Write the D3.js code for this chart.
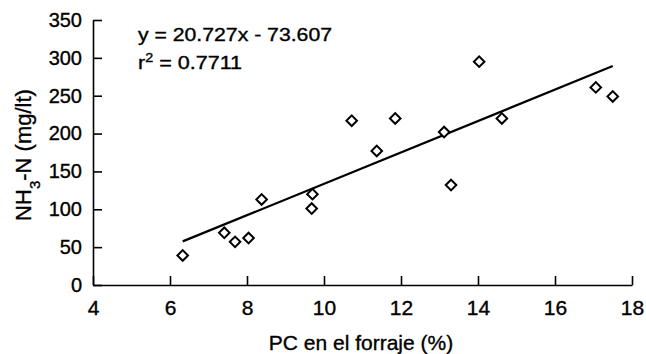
<!DOCTYPE html>
<html>
<head>
<meta charset="utf-8">
<script src="https://cdn.jsdelivr.net/npm/d3@7"></script>
<style>
  body { margin: 0; background: #fff; }
  svg text { font-family: Arial, "Liberation Sans", Helvetica, sans-serif; fill: #000; stroke: #000; stroke-width: 0.35px; }
</style>
</head>
<body>
<svg id="chart" width="646" height="354"></svg>
<script>
// PC en el forraje (%) vs NH3-N (mg/lt)
var pcValues  = [6.33, 7.41, 7.69, 8.04, 8.38, 9.70, 9.68, 10.72, 11.37, 11.85, 13.12, 13.30, 14.03, 14.62, 17.06, 17.50];
var nh3Values = [39, 69, 57, 62, 113, 120, 101, 217, 177, 220, 202, 132, 295, 220, 261, 249];
var xTicks = [4, 6, 8, 10, 12, 14, 16, 18];
var yTicks = [0, 50, 100, 150, 200, 250, 300, 350];
// regression line from the figure
var slope = 20.727;
var intercept = -73.607;

var svg = d3.select("#chart");

var x = d3.scaleLinear().domain([4, 18]).range([93, 632]);
var y = d3.scaleLinear().domain([0, 350]).range([285, 20]);

//x axis, ticks point up into the plot
var xAxis = svg.append("g")
  .attr("transform", "translate(0," + y(0) + ")")
  .call(d3.axisBottom(x).tickValues(xTicks).tickSize(-9).tickSizeOuter(0).tickPadding(15).tickFormat(d3.format("d")));
xAxis.selectAll(".tick text").style("font-size", "21px");

//y axis, ticks point right
var yAxis = svg.append("g")
  .attr("transform", "translate(" + x(4) + ",0)")
  .call(d3.axisLeft(y).tickValues(yTicks).tickSize(-9).tickSizeOuter(0).tickPadding(11).tickFormat(d3.format("d")));
yAxis.selectAll(".tick text").style("font-size", "20px");

svg.selectAll(".domain").attr("stroke", "#000").attr("stroke-width", 1.6);
svg.selectAll(".tick line").attr("stroke", "#000").attr("stroke-width", 1.6);
svg.selectAll(".tick text").attr("fill", "#000");

//axis titles
svg.append("text")
  .attr("x", 361)
  .attr("y", 350)
  .attr("text-anchor", "middle")
  .style("font-size", "21px")
  .text("PC en el forraje (%)");

var yTitle = svg.append("text")
  .attr("transform", "translate(31,155) rotate(-90)")
  .attr("text-anchor", "middle")
  .style("font-size", "22px");
yTitle.append("tspan").text("NH");
yTitle.append("tspan").attr("baseline-shift", "sub").style("font-size", "15px").text("3");
yTitle.append("tspan").text("-N (mg/lt)");

//regression line over the data range
var xExtent = d3.extent(pcValues);
var lineData = xExtent.map(function(d) { return [d, slope * d + intercept]; });

svg.append("path")
  .datum(lineData)
  .attr("fill", "none")
  .attr("stroke", "#000")
  .attr("stroke-width", 2.2)
  .attr("d", d3.line().x(function(d) { return x(d[0]); }).y(function(d) { return y(d[1]); }));

//diamonds
var points = pcValues.map(function(d, i) { return { pc: d, nh3: nh3Values[i] }; });

svg.selectAll(".pt")
  .data(points)
  .enter().append("path")
  .attr("class", "pt")
  .attr("d", d3.symbol().type(d3.symbolSquare).size(56))
  .attr("transform", function(d) { return "translate(" + x(d.pc) + "," + y(d.nh3) + ") rotate(45)"; })
  .attr("fill", "#fff")
  .attr("stroke", "#000")
  .attr("stroke-width", 2);

//equation
svg.append("text")
  .attr("x", 138)
  .attr("y", 41)
  .attr("textLength", 194)
  .attr("lengthAdjust", "spacingAndGlyphs")
  .style("font-size", "18px")
  .text("y = 20.727x - 73.607");

var r2 = svg.append("text")
  .attr("x", 138)
  .attr("y", 69)
  .attr("textLength", 104)
  .attr("lengthAdjust", "spacingAndGlyphs")
  .style("font-size", "18px");
r2.append("tspan").text("r");
r2.append("tspan").attr("baseline-shift", "super").style("font-size", "12px").text("2");
r2.append("tspan").text(" = 0.7711");
</script>
</body>
</html>
